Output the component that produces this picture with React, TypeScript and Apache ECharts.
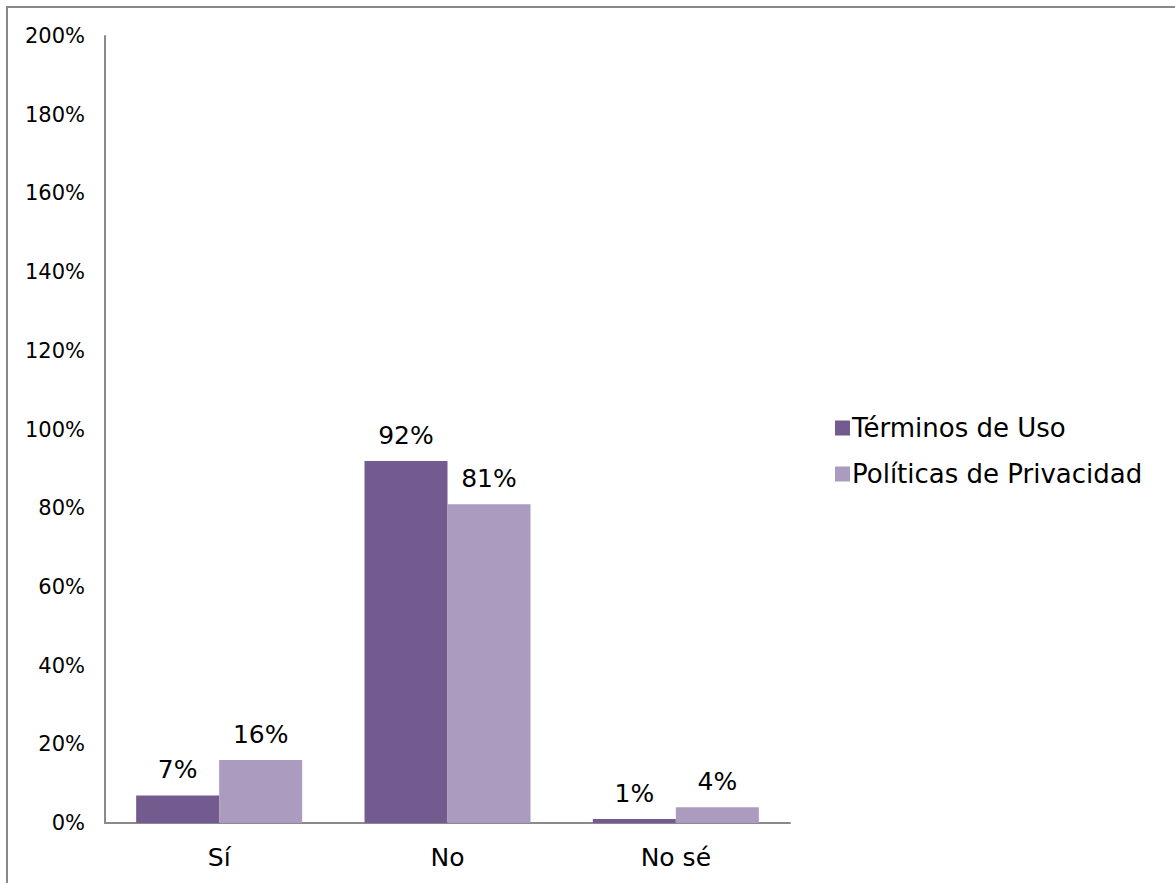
import React, { useEffect, useRef } from "react";
import * as echarts from "echarts";

const categories = ["Sí", "No", "No sé"];
const terminosUso = [7, 92, 1];
const politicasPrivacidad = [16, 81, 4];
const seriesNames = ["Términos de Uso", "Políticas de Privacidad"];

const FONT = "'DejaVu Sans', 'Noto Sans', sans-serif";

export default function App() {
  const ref = useRef<HTMLDivElement>(null);
  useEffect(() => {
    const chart = echarts.init(ref.current!, null, { renderer: "svg" });
    const label = {
      show: true,
      position: "top",
      distance: 13,
      formatter: (p: any) => p.value + "%",
      color: "#000",
      fontSize: 25,
      fontFamily: FONT,
    };
    chart.setOption({
      animation: false,
      backgroundColor: "#fff",
      graphic: [
        {
          type: "rect",
          shape: { x: 7, y: 7, width: 1300, height: 1000 },
          style: { fill: "none", stroke: "#888", lineWidth: 2 },
          silent: true,
        },
      ],
      grid: { left: 105, right: 385, top: 36, bottom: 60 },
      legend: {
        orient: "vertical",
        left: 830,
        top: 410,
        itemWidth: 15,
        itemHeight: 15,
        itemGap: 20,
        icon: "rect",
        textStyle: { fontSize: 26, color: "#000", fontFamily: FONT, padding: [0, 0, 0, -3] },
        data: seriesNames,
      },
      xAxis: {
        type: "category",
        data: categories,
        axisLine: { lineStyle: { color: "#8a8a8a", width: 2 } },
        axisTick: { show: false },
        axisLabel: { color: "#000", fontSize: 25, fontFamily: FONT, margin: 22 },
      },
      yAxis: {
        type: "value",
        min: 0,
        max: 200,
        interval: 20,
        axisLine: { show: true, lineStyle: { color: "#8a8a8a", width: 2 } },
        axisTick: { show: false },
        splitLine: { show: false },
        axisLabel: {
          color: "#000",
          fontSize: 21,
          fontFamily: FONT,
          margin: 20,
          formatter: (v: number) => v + "%",
        },
      },
      series: [
        {
          name: seriesNames[0],
          type: "bar",
          data: terminosUso,
          barWidth: 83,
          barGap: "0%",
          itemStyle: { color: "#735A8F" },
          label,
        },
        {
          name: seriesNames[1],
          type: "bar",
          data: politicasPrivacidad,
          barWidth: 83,
          barGap: "0%",
          itemStyle: { color: "#AA9BBF" },
          label,
        },
      ],
    });
    return () => chart.dispose();
  }, []);
  return (
    <div
      ref={ref}
      style={{ position: "fixed", left: 0, top: 0, width: 1175, height: 883 }}
    />
  );
}
